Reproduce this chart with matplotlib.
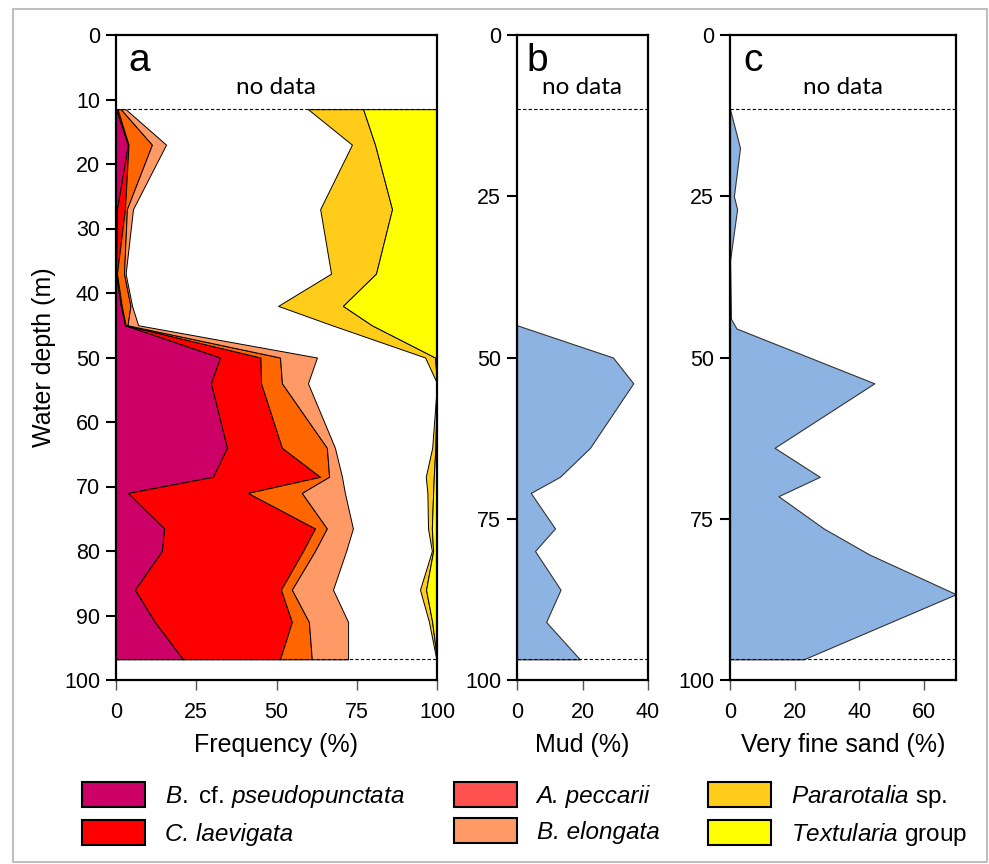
import numpy as np
import matplotlib.pyplot as plt
from matplotlib.patches import Patch, Rectangle

plt.rcParams['font.family'] = ['Liberation Sans', 'DejaVu Sans']
plt.rcParams['mathtext.fontset'] = 'custom'
plt.rcParams['mathtext.rm'] = 'Liberation Sans'
plt.rcParams['mathtext.it'] = 'Liberation Sans:italic'

# panel a: foraminifera frequencies (%) per sample depth (m)
depth_a = [11.5, 17, 27, 37, 42, 45, 50, 54, 64, 68.5, 71, 76.5, 80, 86, 91, 96.8]
b_pseudo = [0, 3.7, 0.3, 0, 1.5, 2.8, 32.4, 29.6, 34.6, 30.2, 3.7, 15.0, 14.3, 5.9, 12.1, 20.9]
c_laev = [0.5, 0.2, 2.5, 0.3, 0.3, 0.2, 12.6, 15.6, 17.1, 33.4, 37.4, 47.0, 44.0, 45.5, 42.7, 30.2]
a_pecc = [1.0, 7.3, 0.6, 2.2, 2.7, 0.6, 6.1, 6.5, 14.0, 2.8, 16.8, 3.7, 3.7, 3.4, 5.3, 9.9]
b_elong = [1.5, 4.4, 1.9, 0.5, 0.5, 3.3, 11.5, 8.1, 2.5, 4.0, 13.4, 8.1, 9.7, 12.8, 12.2, 11.3]
pararot = [17.2, 7.2, 22.4, 14.0, 20.2, 12.4, 3.1, 0, 1.0, 2.5, 1.8, 1.2, 0.4, 1.9, 1.0, 0.2]
textul = [23.0, 19.3, 14.0, 19.0, 29.3, 20.3, 0.6, 0, 0.5, 1.0, 1.2, 1.6, 1.2, 3.4, 1.5, 0]

# panel b: mud (%)
depth_b = [45, 50, 54, 64, 68.5, 71, 76.5, 80, 86, 91, 96.8]
mud = [0, 29.3, 35.5, 22.3, 13.1, 4.2, 11.6, 5.5, 13.3, 8.9, 19.2]

# panel c: very fine sand (%)
depth_c = [11.5, 17.5, 25, 27, 35, 44, 45.5, 54, 64, 68.5, 71.5, 76.5, 80.5, 86.7, 96.8]
vfsand = [0, 3.1, 1.2, 2.2, 0, 0.3, 2.0, 44.7, 13.8, 27.8, 15.0, 29.0, 43.0, 70.0, 22.8]

top_nodata = 11.5
bottom_nodata = 96.8

names = [r'$\it{B.}$ cf. $\it{pseudopunctata}$', 'C. laevigata',
         'A. peccarii', 'B. elongata',
         r'$\it{Pararotalia}$ sp.', r'$\it{Textularia}$ group']
all_italic = [False, True, True, True, False, False]
colors = ['#CC0066', '#FF0000', '#FF6600', '#FF9966', '#FFCC1A', '#FFFF00']
legend_colors = ['#CC0066', '#FF0000', '#FF5050', '#FF9966', '#FFCC1A', '#FFFF00']
blue = '#8DB3E2'

fig = plt.figure(figsize=(9.89, 8.64), dpi=100)
fig.patches.append(Rectangle((13 / 989, 2 / 864), 974 / 989, 853 / 864,
                             transform=fig.transFigure, fill=False,
                             edgecolor='#BFBFBF', lw=1.5))

bot, h = 1 - 680 / 864, 645 / 864
ax_a = fig.add_axes([116 / 989, bot, 321 / 989, h])
ax_b = fig.add_axes([517 / 989, bot, 131 / 989, h])
ax_c = fig.add_axes([730 / 989, bot, 226 / 989, h])

d = np.array(depth_a)
left_layers = [b_pseudo, c_laev, a_pecc, b_elong]
base = np.zeros(len(d))
for vals, col in zip(left_layers, colors[:4]):
    top = base + np.array(vals)
    ax_a.fill_betweenx(d, base, top, facecolor=col, edgecolor='black', lw=0.7)
    base = top
t = np.array(textul)
p = np.array(pararot)
ax_a.fill_betweenx(d, 100 - t - p, 100 - t, facecolor=colors[4], edgecolor='black', lw=0.7)
ax_a.fill_betweenx(d, 100 - t, 100, facecolor=colors[5], edgecolor='black', lw=0.7)

ax_b.fill_betweenx(depth_b, 0, mud, facecolor=blue, edgecolor='#333333', lw=0.8)
ax_c.fill_betweenx(depth_c, 0, vfsand, facecolor=blue, edgecolor='#333333', lw=0.8)

setup = [
    (ax_a, 100, [0, 25, 50, 75, 100], 'Frequency (%)', 'a', 0.037, np.arange(0, 101, 10)),
    (ax_b, 40, [0, 20, 40], 'Mud (%)', 'b', 0.076, [0, 25, 50, 75, 100]),
    (ax_c, 70, [0, 20, 40, 60], 'Very fine sand (%)', 'c', 0.058, [0, 25, 50, 75, 100]),
]
for ax, xmax, xt, xl, letter, lx, yt in setup:
    ax.set_xlim(0, xmax)
    ax.set_ylim(100, 0)
    ax.set_xticks(xt)
    ax.set_yticks(yt)
    ax.set_xlabel(xl, fontsize=18, labelpad=7)
    ax.tick_params(axis='y', direction='out', length=7.5, width=1.5, pad=4, labelsize=15.5)
    ax.tick_params(axis='x', direction='out', length=7, width=1, pad=9, labelsize=15.5,
                   color='#555555')
    for s in ax.spines.values():
        s.set_linewidth(1.6)
        s.set_zorder(5)
    for yy in (top_nodata, bottom_nodata):
        ax.axhline(yy, color='black', lw=0.8, ls=(0, (3, 2)), zorder=4)
    ax.text(xmax / 2, 9.2, 'no data', ha='center', va='baseline',
            fontsize=17.5, family=['Lato', 'DejaVu Sans'])
    ax.text(lx, 0.944, letter, transform=ax.transAxes, ha='left', va='baseline',
            fontsize=28)

ax_a.set_ylabel('Water depth (m)', fontsize=18, labelpad=6)

handles = [Patch(facecolor=c, edgecolor='black', lw=1.5) for c in legend_colors]
leg = fig.legend(handles, names, loc='upper left', bbox_to_anchor=(82 / 989, 1 - 782 / 864),
                 ncol=3, frameon=False, fontsize=17.5, handlelength=2.6, handleheight=1.23,
                 handletextpad=0.82, columnspacing=2.0, labelspacing=0.42,
                 borderpad=0, borderaxespad=0)
for txt, it in zip(leg.get_texts(), all_italic):
    if it:
        txt.set_style('italic')

fig.savefig('out.png', dpi=100)
